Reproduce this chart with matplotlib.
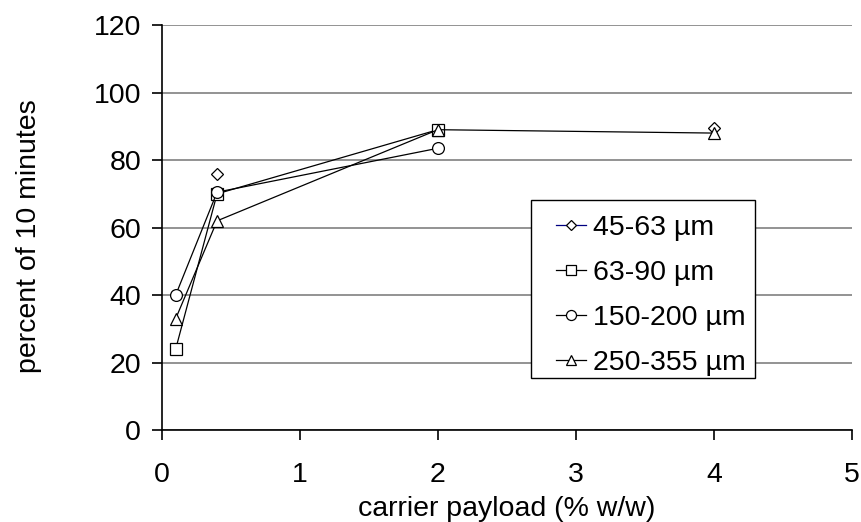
import numpy as np
import matplotlib
matplotlib.use("Agg")
import matplotlib.pyplot as plt
from matplotlib.patches import Rectangle

plt.rcParams['font.family'] = ['Liberation Sans', 'DejaVu Sans']

# carrier payload (% w/w)
payload = [0.1, 0.4, 2, 4]

# percent of 10 minutes, NaN where no point was measured
s45_63 = [np.nan, 76, np.nan, 89.5]
s63_90 = [24, 70, 89, np.nan]
s150_200 = [40, 70.5, 83.5, np.nan]
s250_355 = [33, 62, 89, 88]

labels = ['45-63 µm', '63-90 µm', '150-200 µm', '250-355 µm']
markers = ['D', 's', 'o', '^']
msizes = [6, 8, 8.5, 9]
linecolors = ['navy', 'black', 'black', 'black']

FS = 20.5

fig = plt.figure(figsize=(8.61, 5.22), dpi=100)
ax = fig.add_axes([0.188, 0.176, 0.8015, 0.776])

for vals, lab, mk, ms, lc in zip([s45_63, s63_90, s150_200, s250_355], labels, markers, msizes, linecolors):
    ax.plot(payload, vals, marker=mk, markersize=ms, color=lc, lw=0.9,
            markerfacecolor='white', markeredgecolor='black', markeredgewidth=0.9, label=lab)

ax.set_xlim(0, 5)
ax.set_ylim(0, 120)
ax.set_xticks([0, 1, 2, 3, 4, 5])
ax.set_yticks(np.arange(0, 121, 20))
ax.yaxis.grid(True, color='#808080', lw=1.2)
ax.set_axisbelow(True)
for side in ['top', 'right']:
    ax.spines[side].set_visible(False)
ax.spines['left'].set_linewidth(1.2)
ax.spines['bottom'].set_linewidth(1.2)
ax.tick_params(direction='out', length=7, width=1.2, labelsize=FS)
ax.tick_params(axis='x', pad=16)
ax.tick_params(axis='y', pad=8)

ax.set_xlabel('carrier payload (% w/w)', fontsize=FS, labelpad=6)
ax.set_ylabel('percent of 10 minutes', fontsize=FS)
ax.yaxis.set_label_coords(-0.174, 0.48)

# legend box drawn separately so the padding can match
ax.add_patch(Rectangle((0.535, 0.128), 0.324, 0.44, transform=ax.transAxes,
                       facecolor='white', edgecolor='black', lw=1.0, zorder=5))
leg = ax.legend(loc='upper left', bbox_to_anchor=(0.571, 0.53), fontsize=FS,
                frameon=False, handlelength=1.05, handletextpad=0.25,
                labelspacing=0.66, borderpad=0, borderaxespad=0,
                markerscale=0.85)
leg.set_zorder(6)

fig.savefig('out.png', dpi=100)
